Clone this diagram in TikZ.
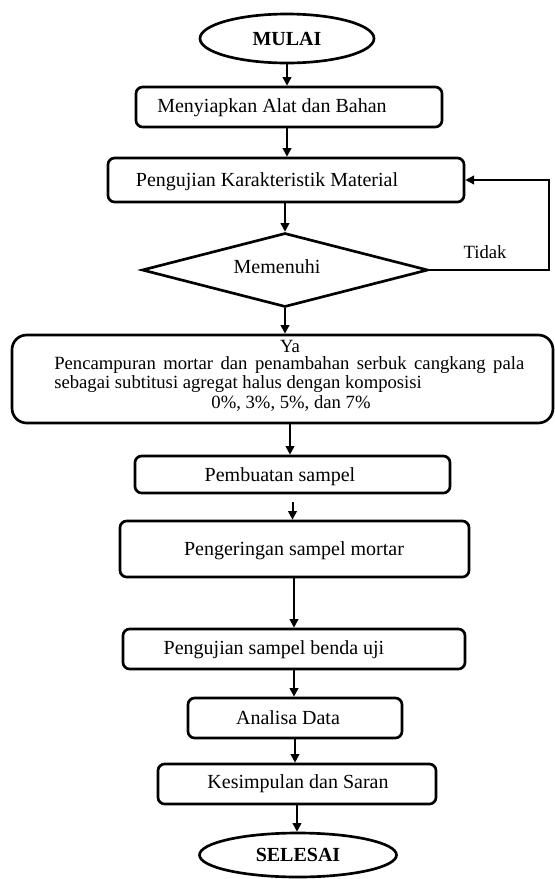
\documentclass[tikz,border=0pt]{standalone}
\usepackage{fontspec}
\setmainfont{Liberation Serif}
\usetikzlibrary{shapes.geometric,arrows.meta,calc}
\begin{document}
\begin{tikzpicture}[x=0.75pt,y=-0.75pt,
  box/.style={draw, line width=2pt, rounded corners=5pt, inner sep=0pt},
  lbl/.style={font=\fontsize{15}{18}\selectfont, inner sep=0pt},
  small/.style={font=\fontsize{14}{14.6}\selectfont, inner sep=0pt, anchor=base},
  arr/.style={line width=1.5pt, -{Triangle[length=6.5pt,width=6.5pt]}},
  term/.style={draw, ellipse, line width=2pt, inner sep=0pt, font=\fontsize{15}{18}\selectfont\bfseries}]
\useasboundingbox (0,0) rectangle (555,879);

% terminals
\node[term, minimum width=130.5pt, minimum height=36.75pt] (start) at (287,38.5) {MULAI};
\node[term, minimum width=147.75pt, minimum height=33pt] (stop) at (298,855) {SELESAI};

% process boxes
\node[box, minimum width=229.5pt, minimum height=30pt] (b1) at (289,107) {};
\node[lbl] (t1) at (272,108) {Menyiapkan Alat dan Bahan};

\node[box, minimum width=267pt, minimum height=33pt] (b2) at (286,180) {};
\node[lbl] (t2) at (267,182) {Pengujian Karakteristik Material};

\node[draw, diamond, line width=2pt, inner sep=0pt, minimum width=214.5pt, minimum height=55.5pt] (dia) at (285,270) {};
\node[lbl] (t3) at (277,267) {Memenuhi};

\node[box, rounded corners=11pt, minimum width=405.75pt, minimum height=66pt] (mix) at (282.5,379) {};
\node[small] (ya) at (290,352) {Ya};
\node[small, anchor=base west] (l1) at (54,369) {\makebox[352.5pt][s]{Pencampuran mortar dan penambahan serbuk cangkang pala}};
\node[small, anchor=base west] (l2) at (54,388) {sebagai subtitusi agregat halus dengan komposisi};
\node[small] (l3) at (291,408) {0\%, 3\%, 5\%, dan 7\%};

\node[box, minimum width=236.25pt, minimum height=27.75pt] (b4) at (292.5,474.5) {};
\node[lbl] (t4) at (280,477) {Pembuatan sampel};

\node[box, minimum width=261.75pt, minimum height=42pt] (b5) at (294.5,549) {};
\node[lbl] (t5) at (294,551) {Pengeringan sampel mortar};

\node[box, minimum width=256.5pt, minimum height=30pt] (b6) at (294,649) {};
\node[lbl] (t6) at (274,650) {Pengujian sampel benda uji};

\node[box, minimum width=160.5pt, minimum height=30pt] (b7) at (295,718) {};
\node[lbl] (t7) at (288,718) {Analisa Data};

\node[box, minimum width=208.5pt, minimum height=30pt] (b8) at (297,784) {};
\node[lbl] (t8) at (298,784) {Kesimpulan dan Saran};

\node[font=\fontsize{14}{16}\selectfont, inner sep=0pt] (tidak) at (485,252) {Tidak};

% connectors
\draw[arr] (start.south) -- (start.south |- b1.north);
\draw[arr] (start.south |- b1.south) -- (start.south |- b2.north);
\draw[arr] (dia.north |- b2.south) -- (dia.north);
\draw[arr] (dia.south) -- (dia.south |- mix.north);
\draw[arr] (ya.south |- mix.south) -- (ya.south |- b4.north);
\draw[arr, shorten <=6pt] (b4.south) -- (b4.south |- b5.north);
\draw[arr] (t5.south |- b5.south) -- (t5.south |- b6.north);
\draw[arr] (b6.south) -- (b6.south |- b7.north);
\draw[arr] (b7.south) -- (b7.south |- b8.north);
\draw[arr] (b8.south) -- (b8.south |- stop.north);

\coordinate (loop) at (549,270);
\draw[line width=1.1pt, -{Triangle[length=6.5pt,width=6.5pt]}] (dia.east) -- (loop) |- (b2.east);
\end{tikzpicture}
\end{document}
